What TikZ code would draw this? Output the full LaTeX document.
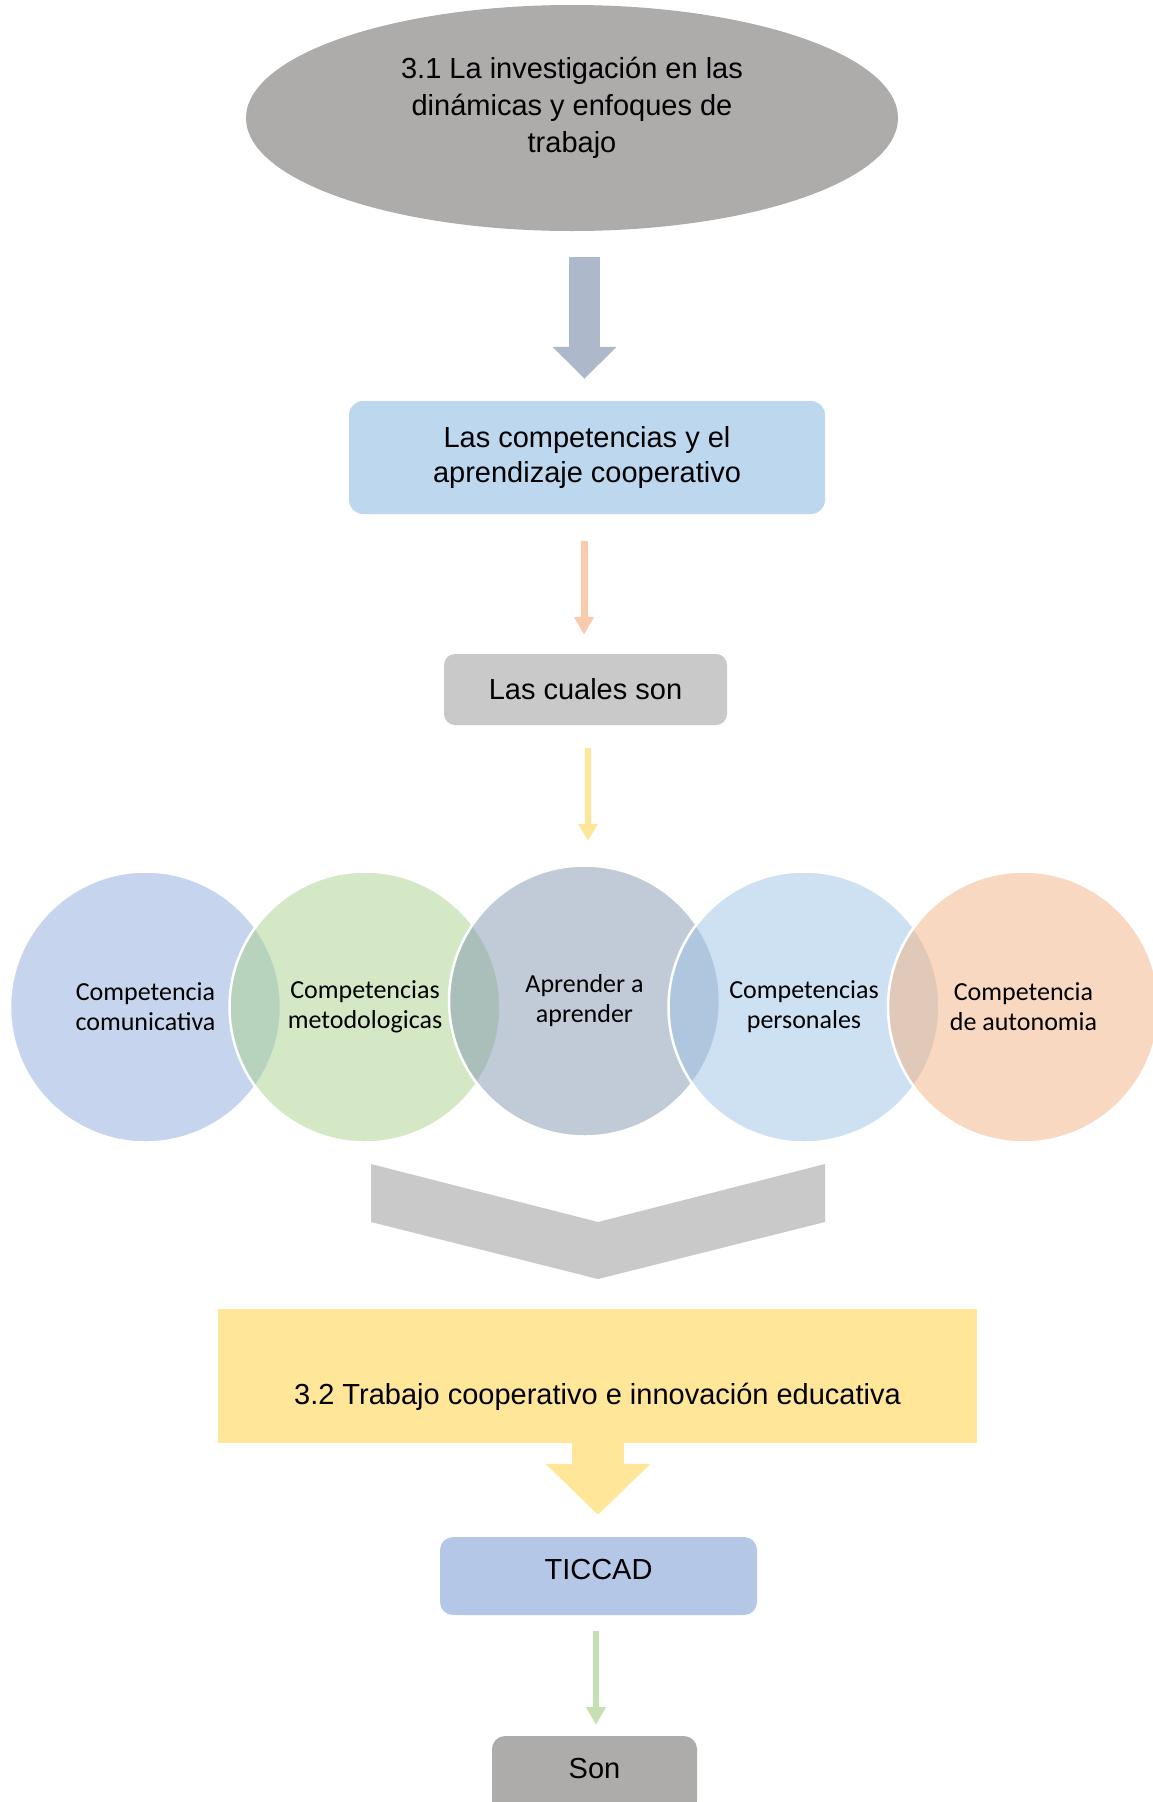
\documentclass[tikz,border=0pt]{standalone}
\usepackage{fontspec}
\setmainfont{Liberation Sans}
\newfontfamily\calibrifont{Carlito}
\usetikzlibrary{arrows.meta,shapes.geometric,calc}
\definecolor{cEll}{HTML}{AEABAB}
\definecolor{cArrA}{HTML}{ADB9CA}
\definecolor{cBoxA}{HTML}{BDD7EE}
\definecolor{cPeach}{HTML}{F8CBAD}
\definecolor{cGray}{HTML}{C9C9C9}
\definecolor{cYel}{HTML}{FFE699}
\definecolor{cTic}{HTML}{B4C7E7}
\definecolor{cGreen}{HTML}{C5E0B4}
\definecolor{kA}{HTML}{8FAADC}
\definecolor{kB}{HTML}{A9D18E}
\definecolor{kC}{HTML}{8497B0}
\definecolor{kD}{HTML}{9DC3E6}
\definecolor{kE}{HTML}{F4B183}
\begin{document}
\begin{tikzpicture}[x=1pt,y=-1pt,
  boxnode/.style={rounded corners=14pt, inner sep=0pt, align=center, font=\fontsize{29}{35.5}\selectfont},
  circnode/.style={circle, minimum size=271pt, inner sep=0pt, draw=white, line width=2.5pt,
     fill opacity=0.5, draw opacity=1, text opacity=1, align=center,
     font=\calibrifont\fontsize{26}{30}\selectfont},
  thinarrow/.style={line width=#1, -{Triangle[width=19pt,length=18pt]}},
]
\useasboundingbox (0,0) rectangle (1153,1802);
\clip (0,0) rectangle (1153,1802);

% column coordinates for connectors
\coordinate (ax1) at (584.5,0);
\coordinate (ax2) at (584,0);
\coordinate (ax3) at (588,0);
\coordinate (ax4) at (598,0);
\coordinate (ax5) at (596,0);

% top ellipse
\node[ellipse, fill=cEll, minimum width=652pt, minimum height=226pt, inner sep=0pt] (ell) at (572,118) {};
\node[align=center, inner sep=0pt, font=\fontsize{29}{37}\selectfont] (ellt) at (572,108)
  {3.1 La investigación en las\\dinámicas y enfoques de\\trabajo};

% box 1
\node[boxnode, fill=cBoxA, minimum width=476pt, minimum height=113pt] (box1) at (587,457.5)
  {Las competencias y el\\aprendizaje cooperativo};

% box "Las cuales son"
\node[boxnode, rounded corners=11pt, fill=cGray, minimum width=283pt, minimum height=71pt] (cuales) at (585.5,689.5)
  {Las cuales son};

% circles
\node[circnode, fill=kA] (c1) at (145.5,1007) {Competencia\\comunicativa};
\node[circnode, fill=kB] (c2) at (365,1007) {Competencias\\metodologicas};
\node[circnode, fill=kC] (c3) at (584.5,1001) {Aprender a\\aprender};
\node[circnode, fill=kD] (c4) at (804,1007) {Competencias\\personales};
\node[circnode, fill=kE] (c5) at (1023.5,1007) {Competencia\\de autonomia};

% chevron
\fill[cGray] (371,1164) -- (598,1222) -- (825,1164) -- (825,1222) -- (598,1279) -- (371,1222) -- cycle;

% yellow box
\node[fill=cYel, minimum width=759pt, minimum height=134pt, inner sep=0pt] (ybox) at (597.5,1376) {};
\node[inner sep=0pt, font=\fontsize{29}{35}\selectfont] (yboxt) at (597.5,1397)
  {3.2 Trabajo cooperativo e innovación educativa};

% TICCAD
\node[boxnode, rounded corners=13pt, fill=cTic, minimum width=317pt, minimum height=78pt, text depth=14pt] (tic) at (598.5,1576) {TICCAD};

% Son
\node[boxnode, rounded corners=13pt, fill=cEll, minimum width=205pt, minimum height=78pt, text depth=14pt] (son) at (594.5,1775) {Son};

% connectors
\draw[cArrA, line width=31pt, -{Triangle[width=62pt,length=32pt]}, shorten <=26pt, shorten >=22pt]
  (ell.south -| ax1) -- (box1.north -| ax1);
\draw[cPeach, thinarrow=7pt, shorten <=27pt, shorten >=19pt]
  (box1.south -| ax2) -- (cuales.north -| ax2);
\draw[cYel, line width=6pt, -{Triangle[width=19pt,length=17pt]}, shorten <=23pt, shorten >=23.5pt]
  (cuales.south -| ax3) -- (c3.north -| ax3);
\draw[cYel, line width=52pt, -{Triangle[width=102pt,length=51pt]}, shorten >=22pt]
  (ybox.south -| ax4) -- (tic.north -| ax4);
\draw[cGreen, thinarrow=6pt, shorten <=16pt, shorten >=11pt]
  (tic.south -| ax5) -- (son.north -| ax5);
\end{tikzpicture}
\end{document}
